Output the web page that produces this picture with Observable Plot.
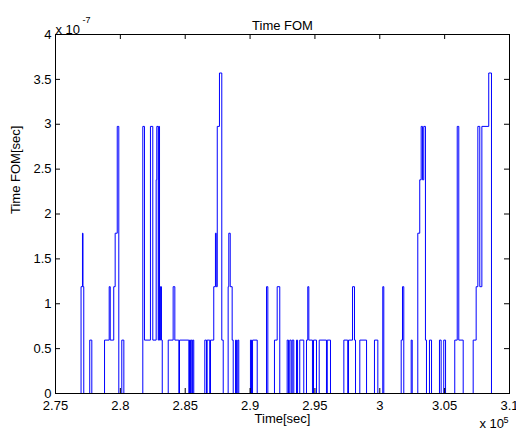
<!DOCTYPE html>
<html>
<head>
<meta charset="utf-8">
<script src="https://cdn.jsdelivr.net/npm/d3@7"></script>
<script src="https://cdn.jsdelivr.net/npm/@observablehq/plot@0.6"></script>
<style>
  html, body { margin: 0; padding: 0; background: #fff; }
  #chart { width: 516px; height: 433px; overflow: hidden; }
</style>
</head>
<body>
<div id="chart"></div>
<script>
// Time [sec] at which the Time FOM changes (stairs, step-after)
const time = [276960, 276970, 277080, 277120, 277180, 277640, 277800, 278780, 279140, 279220,
  279490, 279600, 279760, 279880, 280110, 280270, 281730, 281860, 282320, 282500,
  282760, 282810, 282920, 282960, 283020, 283090, 283170, 283230, 283690, 284070,
  284200, 284510, 284560, 285280, 285330, 285410, 285460, 285540, 285580, 285660,
  286510, 286640, 286690, 286890, 286950, 287200, 287330, 287390, 287470, 287640,
  287820, 287930, 288310, 288360, 288470, 288620, 288700, 288880, 288950, 289050,
  289130, 290030, 290110, 290190, 290550, 291270, 291370, 291880, 292090, 292290,
  292860, 292960, 293060, 293170, 293250, 293370, 293580, 293660, 293830, 294140,
  294350, 294450, 294530, 294810, 294890, 295120, 295330, 295890, 295950, 296200,
  297230, 297530, 297590, 297900, 298050, 298130, 298460, 298980, 299590, 299850,
  300230, 300310, 301650, 301750, 301850, 302420, 302500, 302930, 303080, 303190,
  303290, 303390, 303520, 303600, 303830, 303990, 304600, 304730, 304930, 305070,
  305780, 305970, 306090, 306430, 307200, 307430, 307560, 307710, 307870, 308400,
  308610, 310000];
// Time FOM [sec], in units of 1e-7 sec
const fom = [0, 1.19, 1.786, 1.19, 0, 0.595, 0, 0.595, 1.19, 0.595,
  1.19, 1.786, 2.976, 0, 0.595, 0, 2.976, 0.595, 2.976, 0.595,
  2.381, 2.976, 0.595, 2.976, 0.595, 1.19, 0.595, 0, 0.595, 1.19,
  0.595, 0, 0.595, 0, 0.595, 0, 0.595, 0, 0.595, 0,
  0.595, 0, 0.595, 0, 0.595, 1.19, 1.786, 1.19, 2.976, 3.571,
  0.595, 0, 1.19, 1.786, 1.19, 0.595, 0, 0.595, 0, 0.595,
  0, 0.595, 0, 0.595, 0, 1.19, 0, 0.595, 1.19, 0,
  0.595, 0, 0.595, 0, 0.595, 0, 0.595, 0, 0.595, 0,
  0.595, 1.19, 0.595, 0, 0.595, 0, 0.595, 0, 0.595, 0,
  0.595, 0, 0.595, 1.19, 0.595, 0, 0.595, 0, 0.595, 0,
  1.19, 0, 0.595, 1.19, 0, 0.595, 0, 1.786, 2.381, 2.976,
  2.381, 2.976, 0.595, 0, 0.595, 0, 0.595, 0, 0.595, 0,
  0.595, 2.976, 0.595, 0, 0.595, 1.19, 2.976, 1.19, 2.976, 3.571,
  0, 0];

const xTicks = [275000, 280000, 285000, 290000, 295000, 300000, 305000, 310000];
const xTickLabels = ["2.75", "2.8", "2.85", "2.9", "2.95", "3", "3.05", "3.1"];
const yTicks = [0, 0.5, 1, 1.5, 2, 2.5, 3, 3.5, 4];
const yTickLabels = ["0", "0.5", "1", "1.5", "2", "2.5", "3", "3.5", "4"];

const data = time.map((t, i) => ({t, v: fom[i]}));

const W = 516, H = 433;
const mL = 55, mR = 7, mT = 34, mB = 40;
const fw = W - mL - mR, fh = H - mT - mB;
const tk = 5;

const chart = Plot.plot({
  width: W, height: H,
  marginLeft: mL, marginRight: mR, marginTop: mT, marginBottom: mB,
  style: {fontFamily: "'Liberation Sans', Arial, sans-serif", fontSize: "13px", color: "black", background: "white"},
  x: {domain: [275000, 310000]},
  y: {domain: [0, 4]},
  marks: [
    Plot.line(data, {x: "t", y: "v", curve: "step-after", stroke: "#0000ff", strokeWidth: 1}),
    Plot.frame({stroke: "black", strokeWidth: 1}),
    // inward ticks
    Plot.tickX(xTicks, {x: d => d, insetTop: fh - tk, stroke: "black"}),
    Plot.tickX(xTicks, {x: d => d, insetBottom: fh - tk, stroke: "black"}),
    Plot.tickY(yTicks, {y: d => d, insetRight: fw - tk, stroke: "black"}),
    Plot.tickY(yTicks, {y: d => d, insetLeft: fw - tk, stroke: "black"}),
    Plot.axisX(xTicks, {anchor: "bottom", tickSize: 0, tickPadding: 7, label: null,
      tickFormat: d => xTickLabels[xTicks.indexOf(d)], fill: "black"}),
    Plot.axisY(yTicks, {anchor: "left", tickSize: 0, tickPadding: 4, label: null,
      tickFormat: d => yTickLabels[yTicks.indexOf(d)], fill: "black"}),
    Plot.text(["Time FOM"], {frameAnchor: "top", dy: -14, fill: "black"}),
    Plot.text(["Time[sec]"], {frameAnchor: "bottom", dy: 29, fill: "black"}),
    Plot.text(["Time FOM[sec]"], {frameAnchor: "left", dx: -40, rotate: -90, fill: "black"}),
    Plot.text(["x 10"], {frameAnchor: "top-left", textAnchor: "start", dy: -10, fill: "black"}),
    Plot.text(["-7"], {frameAnchor: "top-left", textAnchor: "start", dx: 27, dy: -18, fontSize: 9, fill: "black"}),
    Plot.text(["x 10"], {frameAnchor: "bottom-right", textAnchor: "start", dx: -30, dy: 34, fill: "black"}),
    Plot.text(["5"], {frameAnchor: "bottom-right", textAnchor: "start", dx: -6, dy: 29, fontSize: 9, fill: "black"})
  ]
});
document.getElementById("chart").appendChild(chart);
</script>
</body>
</html>
